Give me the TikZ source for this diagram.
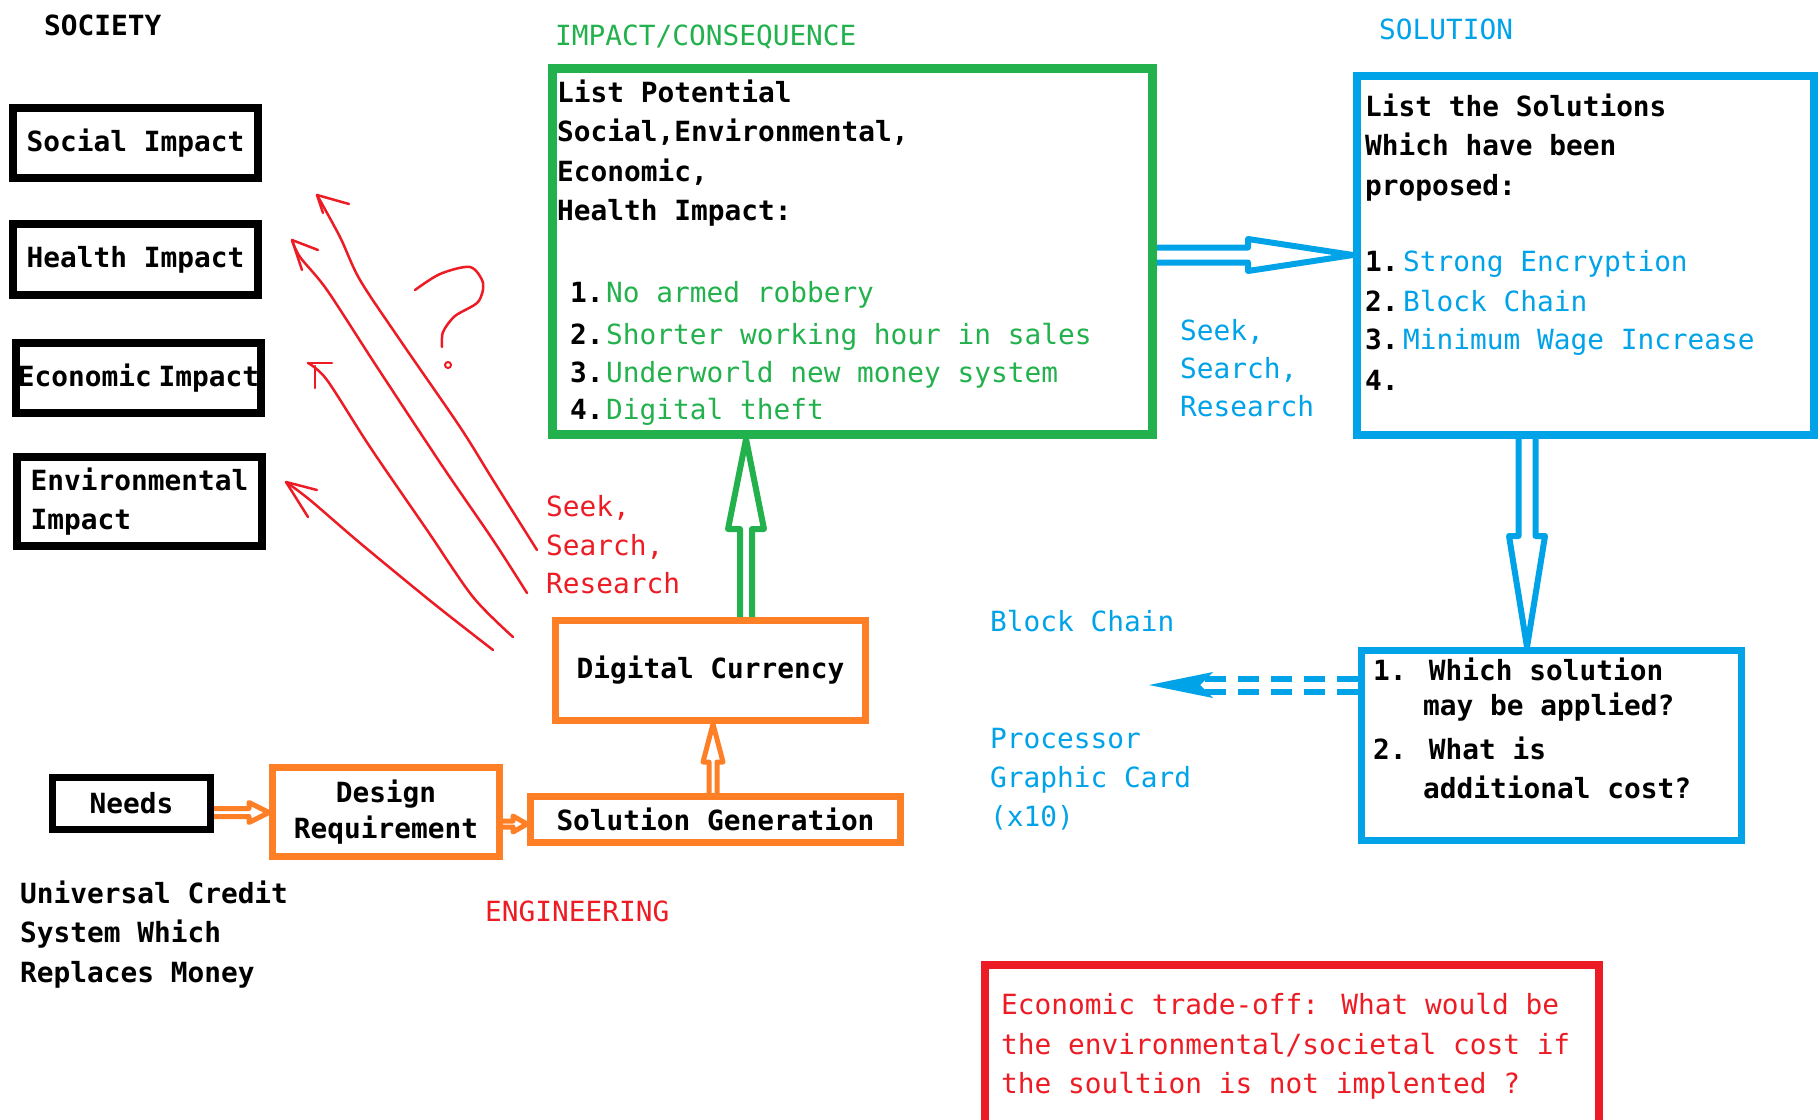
\documentclass[tikz,border=0pt]{standalone}
\usepackage{fontspec}
\setmainfont{DejaVu Sans Mono}
\usetikzlibrary{calc}
\definecolor{pgreen}{RGB}{34,177,76}
\definecolor{pblue}{RGB}{0,162,232}
\definecolor{porange}{RGB}{255,127,39}
\definecolor{pred}{RGB}{237,28,36}
\newcommand{\mysz}{\fontsize{27.8}{39.5}\selectfont}
% #1 style, #2 start, #3 end (tip), #4 shaft half width, #5 head half width, #6 head length
\newcommand{\hollowarrow}[6]{%
  \coordinate (hab) at ($(#3)!#6!(#2)$);
  \draw[#1] ($(#2)!#4!90:(#3)$) -- ($(hab)!#4!90:(#3)$) -- ($(hab)!#5!90:(#3)$) -- (#3)
    -- ($(hab)!#5!-90:(#3)$) -- ($(hab)!#4!-90:(#3)$) -- ($(#2)!#4!-90:(#3)$);
}
\begin{document}
\begin{tikzpicture}[x=1pt,y=-1pt,
  box/.style={draw, rectangle, inner sep=0pt, font=\mysz\bfseries, align=center},
  txt/.style={inner sep=0pt, anchor=base west, font=\mysz},
  btxt/.style={txt, font=\mysz\bfseries},
  redpen/.style={draw=pred, line width=2.5pt, line cap=round, line join=round},
  harrow/.style={line join=round, line cap=butt}]
\useasboundingbox (0,0) rectangle (1820,1119);

% ---------- SOCIETY ----------
\node[btxt] (society) at (44,35.5) {SOCIETY};
\node[box, line width=8pt, minimum width=245pt, minimum height=70pt] (social) at (135.5,143) {Social Impact};
\node[box, line width=8pt, minimum width=245pt, minimum height=71pt] (health) at (135.5,259.5) {Health Impact};
\node[box, line width=8pt, minimum width=245pt, minimum height=70pt] (econ) at (138.5,378) {Economic\hspace{-10pt} Impact};
\node[box, align=left, line width=8pt, minimum width=245pt, minimum height=89pt] (env) at (139.5,501.5) {Environmental\\Impact};

% ---------- IMPACT / CONSEQUENCE ----------
\node[txt, text=pgreen] (impt) at (555,45) {IMPACT/CONSEQUENCE};
\node[draw=pgreen, line width=9pt, minimum width=600pt, minimum height=366pt, inner sep=0pt] (green) at (852.5,251.5) {};
\node[btxt] (g1) at (557,102) {List Potential};
\node[btxt] (g2) at (557,141) {Social,Environmental,};
\node[btxt] (g3) at (557,181) {Economic,};
\node[btxt] (g4) at (557,220) {Health Impact:};
\node[btxt] (gn1) at (570,302) {1.};
\node[btxt] (gn2) at (570,344) {2.};
\node[btxt] (gn3) at (570,382) {3.};
\node[btxt] (gn4) at (570,419) {4.};
\node[txt, text=pgreen] (gi1) at (606,302) {No armed robbery};
\node[txt, text=pgreen] (gi2) at (606,344) {Shorter working hour in sales};
\node[txt, text=pgreen] (gi3) at (606,382) {Underworld new money system};
\node[txt, text=pgreen] (gi4) at (606,419) {Digital theft};

% ---------- SOLUTION ----------
\node[txt, text=pblue] (solt) at (1379,39) {SOLUTION};
\node[draw=pblue, line width=8pt, minimum width=457pt, minimum height=359pt, inner sep=0pt] (blue) at (1585.5,255.5) {};
\node[btxt] (b1) at (1365,116) {List the Solutions};
\node[btxt] (b2) at (1365,155) {Which have been};
\node[btxt] (b3) at (1365,195) {proposed:};
\node[btxt] (bn1) at (1365,271) {1.};
\node[btxt] (bn2) at (1365,311) {2.};
\node[btxt] (bn3) at (1365,349) {3.};
\node[btxt] (bn4) at (1365,390) {4.};
\node[txt, text=pblue] (bi1) at (1403,271) {Strong Encryption};
\node[txt, text=pblue] (bi2) at (1403,311) {Block Chain};
\node[txt, text=pblue] (bi3) at (1403,349) {Minimum Wage Increase};

\node[txt, text=pblue] (bs1) at (1180,340) {Seek,};
\node[txt, text=pblue] (bs2) at (1180,378) {Search,};
\node[txt, text=pblue] (bs3) at (1180,416) {Research};

% ---------- ENGINEERING ----------
\node[box, draw=porange, line width=7pt, minimum width=310pt, minimum height=100pt] (digital) at (710.5,670.5) {Digital Currency};
\node[box, line width=7pt, minimum width=158pt, minimum height=52pt] (needs) at (131.5,803.5) {Needs};
\node[box, draw=porange, line width=7pt, minimum width=227pt, minimum height=89pt, font=\fontsize{27.8}{36}\selectfont\bfseries] (design) at (386,812) {Design\\Requirement};
\node[box, draw=porange, line width=7pt, minimum width=370pt, minimum height=46pt] (solgen) at (715.5,819.5) {Solution Generation};

\node[btxt] (u1) at (20,903) {Universal Credit};
\node[btxt] (u2) at (20,942) {System Which};
\node[btxt] (u3) at (20,982) {Replaces Money};
\node[txt, text=pred] (eng) at (485,921) {ENGINEERING};

\node[txt, text=pred] (rs1) at (546,516) {Seek,};
\node[txt, text=pred] (rs2) at (546,555) {Search,};
\node[txt, text=pred] (rs3) at (546,593) {Research};

% ---------- questions ----------
\node[draw=pblue, line width=7pt, minimum width=380pt, minimum height=190pt, inner sep=0pt] (q) at (1551.5,745.5) {};
\node[btxt] (q1) at (1373,680) {1. Which solution};
\node[btxt] (q2) at (1423,715) {may be applied?};
\node[btxt] (q3) at (1373,759) {2. What is};
\node[btxt] (q4) at (1423,798) {additional cost?};

\node[txt, text=pblue] (bc) at (990,631) {Block Chain};
\node[txt, text=pblue] (p1) at (990,748) {Processor};
\node[txt, text=pblue] (p2) at (990,787) {Graphic Card};
\node[txt, text=pblue] (p3) at (990,826) {(x10)};

% ---------- trade-off ----------
\node[draw=pred, line width=8pt, minimum width=614pt, minimum height=161pt, inner sep=0pt] (tradeoff) at (1292,1045.5) {};
\node[txt, text=pred] (t1) at (1001,1014) {Economic trade-off: What would be};
\node[txt, text=pred] (t2) at (1001,1054) {the environmental/societal cost if};
\node[txt, text=pred] (t3) at (1001,1093) {the soultion is not implented ?};

% ---------- hollow arrows ----------
\coordinate (gb1) at ($(green.east)+(0,3.5)$);
\coordinate (gb2) at (blue.west |- gb1);
\hollowarrow{harrow, draw=pblue, line width=6pt}{gb1}{gb2}{7.5pt}{16pt}{105pt}

\coordinate (du1) at ($(digital.north)+(35.5,0)$);
\coordinate (du2) at (green.south -| du1);
\hollowarrow{harrow, draw=pgreen, line width=6pt}{du1}{du2}{6pt}{18pt}{90pt}

\coordinate (sd1) at ($(solgen.north)+(-2.5,0)$);
\coordinate (sd2) at (digital.south -| sd1);
\hollowarrow{harrow, draw=porange, line width=5pt}{sd1}{sd2}{4pt}{10pt}{38pt}

\coordinate (nd1) at ($(needs.east)+(0,9)$);
\coordinate (nd2) at (design.west |- nd1);
\hollowarrow{harrow, draw=porange, line width=5pt}{nd1}{nd2}{4pt}{10pt}{20pt}

\coordinate (ds1) at ($(design.east)+(0,12)$);
\coordinate (ds2) at (solgen.west |- ds1);
\hollowarrow{harrow, draw=porange, line width=5pt}{ds1}{ds2}{3pt}{8pt}{14pt}

\coordinate (bq1) at ($(blue.south)+(-58.5,0)$);
\coordinate (bq2) at (q.north -| bq1);
\hollowarrow{harrow, draw=pblue, line width=6pt}{bq1}{bq2}{8.5pt}{18pt}{111pt}

% dashed double arrow
\coordinate (qd1) at ($(q.west)+(0,-60.5)$);
\coordinate (qd2) at (1205,685);
\coordinate (qd3) at (1149,685);
\draw[pblue, line width=6pt, double=white, double distance=7pt, dash pattern=on 21pt off 12pt] (qd1) -- (qd2);
\fill[pblue] (qd3) -- ($(qd2)+(8,-13)$) -- ($(qd2)+(-5,0)$) -- ($(qd2)+(8,13)$) -- cycle;

% ---------- red hand-drawn arrows ----------
\coordinate (r1a) at (537,550); \coordinate (r1t) at (317,195);
\draw[redpen] plot[smooth] coordinates {(r1a) (493,480) (460,427) (400,340) (360,280) (340,237) (r1t)};
\draw[redpen] (349,204) -- (r1t) -- (323,213);
\coordinate (r2a) at (527,593); \coordinate (r2t) at (292,240);
\draw[redpen] plot[smooth] coordinates {(r2a) (493,540) (443,467) (377,367) (327,290) (300,257) (r2t)};
\draw[redpen] (318,250) -- (r2t) -- (302,270);
\coordinate (r3a) at (513,637); \coordinate (r3t) at (308,363);
\draw[redpen] plot[smooth] coordinates {(r3a) (473,597) (427,530) (370,447) (327,380) (r3t)};
\draw[redpen] (332,363) -- (r3t); \draw[redpen] (315,366) -- (315,388);
\coordinate (r4a) at (493,650); \coordinate (r4t) at (286,482);
\draw[redpen] plot[smooth] coordinates {(r4a) (433,603) (360,543) (310,500) (r4t)};
\draw[redpen] (317,490) -- (r4t) -- (308,517);
% question mark
\draw[redpen] plot[smooth] coordinates {(415,290) (440,274) (470,267) (483,283) (478,302) (455,316) (443,332) (442,347)};
\draw[redpen, line width=2pt] (448,365) circle (3);
\end{tikzpicture}
\end{document}
